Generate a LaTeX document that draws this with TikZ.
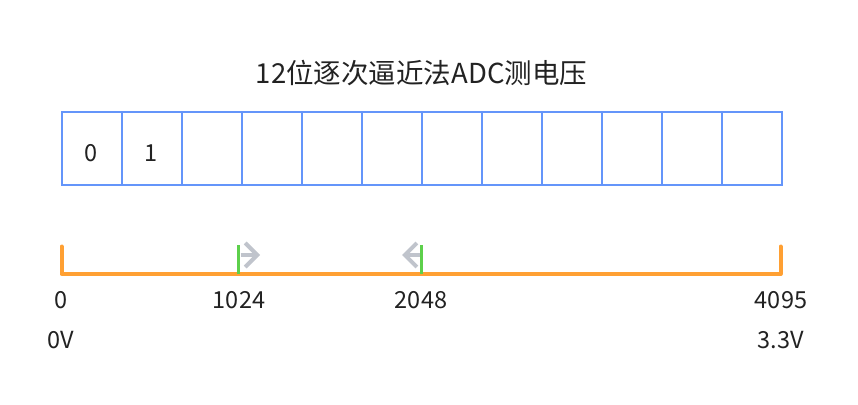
\documentclass[tikz,border=0pt]{standalone}
\usepackage{fontspec}
\setmainfont{Noto Sans CJK SC}
\usetikzlibrary{arrows.meta}
\definecolor{cellblue}{HTML}{6495FA}
\definecolor{rangeorange}{HTML}{FFA033}
\definecolor{tickgreen}{HTML}{5DD04B}
\definecolor{arrowgray}{HTML}{C0C4CC}
\definecolor{txt}{HTML}{222222}
\tikzset{
  cell/.style={draw=cellblue, line width=2pt, minimum width=60pt, minimum height=73pt, inner sep=0pt, anchor=north west, text=txt},
  lbl/.style={anchor=base, inner sep=0pt, text=txt, font=\fontsize{23.5}{27}\selectfont},
  rangeline/.style={draw=rangeorange, line width=4pt, line cap=round, line join=round},
  tickline/.style={draw=tickgreen, line width=3.5pt},
  movearrow/.style={draw=arrowgray, line width=4pt, -{Straight Barb[length=12pt,width=24pt,line width=4pt]}}
}
\begin{document}
\begin{tikzpicture}[x=1pt,y=-1pt]
\useasboundingbox (0,0) rectangle (858,404);
\node[anchor=base, inner sep=0pt, text=txt, font=\fontsize{27.5}{32}\selectfont] (title) at (421.5,83.5) {12位逐次逼近法ADC测电压};
\foreach \i in {0,...,11}{
  \node[cell] (c\i) at ({61+60*\i},111) {};
}
\node[lbl] (b0) at (91,161) {0};
\node[lbl] (b1) at (151,161) {1};
% range line
\coordinate (l0) at (61.5,246.5);
\coordinate (l1) at (61.5,274);
\coordinate (r1) at (780.5,274);
\coordinate (r0) at (780.5,246.5);
\draw[rangeline] (l0) -- (l1) -- (r1) -- (r0);
% ticks
\coordinate (t1a) at (238.5,245);
\coordinate (t1b) at (238.5,274);
\coordinate (t2a) at (421.5,245);
\coordinate (t2b) at (421.5,274);
% arrows
\coordinate (a1s) at (240.5,255);
\coordinate (a1e) at (260,255);
\coordinate (a2s) at (419.5,255);
\coordinate (a2e) at (402,255);
\draw[movearrow] (a1s) -- (a1e);
\draw[movearrow] (a2s) -- (a2e);
\draw[tickline] (t1a) -- (t1b);
\draw[tickline] (t2a) -- (t2b);
% labels
\node[lbl] (n0) at (61,308) {0};
\node[lbl] (n1024) at (239,308) {1024};
\node[lbl] (n2048) at (421,308) {2048};
\node[lbl] (n4095) at (781,308) {4095};
\node[lbl] (v0) at (61,348) {0V};
\node[lbl] (v33) at (781,348) {3.3V};
\end{tikzpicture}
\end{document}
